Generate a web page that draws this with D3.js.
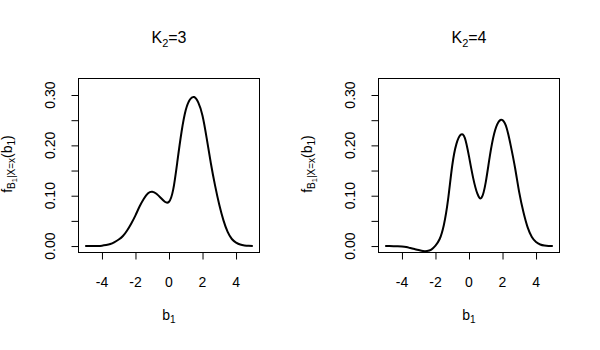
<!DOCTYPE html>
<meta charset="utf-8">
<script src="https://d3js.org/d3.v7.min.js"></script>
<style>
  body { margin: 0; background: #fff; }
  text { white-space: pre; }
</style>
<div id="my_dataviz"></div>
<script>

  var bValues = [-5, -4.75, -4.5, -4.25, -4, -3.75, -3.5, -3.25, -3, -2.75, -2.5, -2.25, -2,
                 -1.75, -1.5, -1.25, -1, -0.75, -0.5, -0.25, 0, 0.25, 0.5, 0.75, 1,
                 1.25, 1.5, 1.75, 2, 2.25, 2.5, 2.75, 3, 3.25, 3.5, 3.75, 4,
                 4.25, 4.5, 4.75, 5];

  // conditional density, K2 = 3
  var densK3 = [0, 0, 0.0001, 0.0003, 0.0008, 0.002, 0.004, 0.008, 0.013, 0.020, 0.031, 0.045, 0.061,
                0.079, 0.094, 0.105, 0.108, 0.104, 0.096, 0.088, 0.088, 0.112, 0.168, 0.227, 0.270,
                0.291, 0.296, 0.285, 0.259, 0.214, 0.164, 0.120, 0.082, 0.051, 0.028, 0.014, 0.007,
                0.003, 0.0012, 0.0004, 0.0001];

  // conditional density, K2 = 4
  var densK4 = [0, 0, -0.0002, -0.0005, -0.001, -0.002, -0.004, -0.006, -0.008, -0.010, -0.010, -0.007, 0.001,
                0.014, 0.042, 0.092, 0.160, 0.203, 0.221, 0.215, 0.178, 0.135, 0.104, 0.096, 0.127,
                0.180, 0.223, 0.246, 0.250, 0.234, 0.198, 0.155, 0.106, 0.067, 0.037, 0.018, 0.008,
                0.003, 0.001, 0.0003, 0.0001];

  var panelK = ["3", "4"];
  var xTicks = [-4, -2, 0, 2, 4];
  var yTicks = [0, 0.05, 0.10, 0.15, 0.20, 0.25, 0.30];
  var yLabels = ["0.00", "0.10", "0.20", "0.30"];
  var yLabelValues = [0, 0.10, 0.20, 0.30];

  var svg = d3.select("#my_dataviz")
    .append("svg")
      .attr("width", 600)
      .attr("height", 350)
      .style("font-family", "'Liberation Sans', Arial, Helvetica, sans-serif");

  function drawPanel(offsetX, k, dens) {
    var g = svg.append("g")
      .attr("transform", "translate(" + offsetX + ",0)");

    var x = d3.scaleLinear().domain([-5.4, 5.4]).range([78.5, 259.5]);
    var y = d3.scaleLinear().domain([-0.0128, 0.3328]).range([252.5, 78.5]);

    // x axis ticks
    var xAxis = g.append("g")
      .attr("transform", "translate(0,252.5)")
      .call(d3.axisBottom(x).tickValues(xTicks).tickSize(7).tickFormat(""));
    xAxis.select(".domain").remove();

    g.selectAll(".xlab")
      .data(xTicks)
      .enter()
      .append("text")
        .attr("x", function(d) { return x(d); })
        .attr("y", 287)
        .attr("text-anchor", "middle")
        .style("font-size", "14px")
        .text(function(d) { return d; });

    // y axis ticks
    var yAxis = g.append("g")
      .attr("transform", "translate(78.5,0)")
      .call(d3.axisLeft(y).tickValues(yTicks).tickSize(7).tickFormat(""));
    yAxis.select(".domain").remove();

    g.selectAll(".ylab")
      .data(yLabelValues)
      .enter()
      .append("text")
        .attr("transform", function(d) { return "translate(55," + y(d) + ") rotate(-90)"; })
        .attr("text-anchor", "middle")
        .style("font-size", "14px")
        .text(function(d, i) { return yLabels[i]; });

    // plot box
    g.append("rect")
      .attr("x", 78.5)
      .attr("y", 78.5)
      .attr("width", 181)
      .attr("height", 174)
      .attr("fill", "none")
      .attr("stroke", "black")
      .attr("stroke-width", 1);

    // density curve
    var pts = bValues.map(function(b, i) { return [b, dens[i]]; });
    g.append("path")
      .datum(pts)
      .attr("d", d3.line()
        .curve(d3.curveNatural)
        .x(function(d) { return x(d[0]); })
        .y(function(d) { return y(d[1]); })
      )
      .attr("fill", "none")
      .attr("stroke", "black")
      .attr("stroke-width", 2);

    // title K_2 = k
    var title = g.append("text")
      .attr("x", 169)
      .attr("y", 43)
      .attr("text-anchor", "middle")
      .style("font-size", "16px");
    title.append("tspan").text("K");
    title.append("tspan").attr("dy", 4).style("font-size", "11px").text("2");
    title.append("tspan").attr("dy", -4).text("=" + k);

    // x label b_1
    var xl = g.append("text")
      .attr("x", 169)
      .attr("y", 320)
      .attr("text-anchor", "middle")
      .style("font-size", "14px");
    xl.append("tspan").text("b");
    xl.append("tspan").attr("dy", 3).style("font-size", "10px").text("1");

    // y label f_{B1|X=x}(b1)
    var yl = g.append("text")
      .attr("transform", "translate(12,164) rotate(-90)")
      .attr("text-anchor", "middle")
      .style("font-size", "14px");
    yl.append("tspan").text("f");
    yl.append("tspan").attr("dy", 3).style("font-size", "10px").text("B");
    yl.append("tspan").attr("dy", 2).style("font-size", "7.5px").text("1");
    yl.append("tspan").attr("dy", -2).style("font-size", "10px").text("|X=x");
    yl.append("tspan").attr("dy", -3).text("(b");
    yl.append("tspan").attr("dy", 3).style("font-size", "10px").text("1");
    yl.append("tspan").attr("dy", -3).text(")");
  }

  drawPanel(0, panelK[0], densK3);
  drawPanel(300, panelK[1], densK4);

</script>
